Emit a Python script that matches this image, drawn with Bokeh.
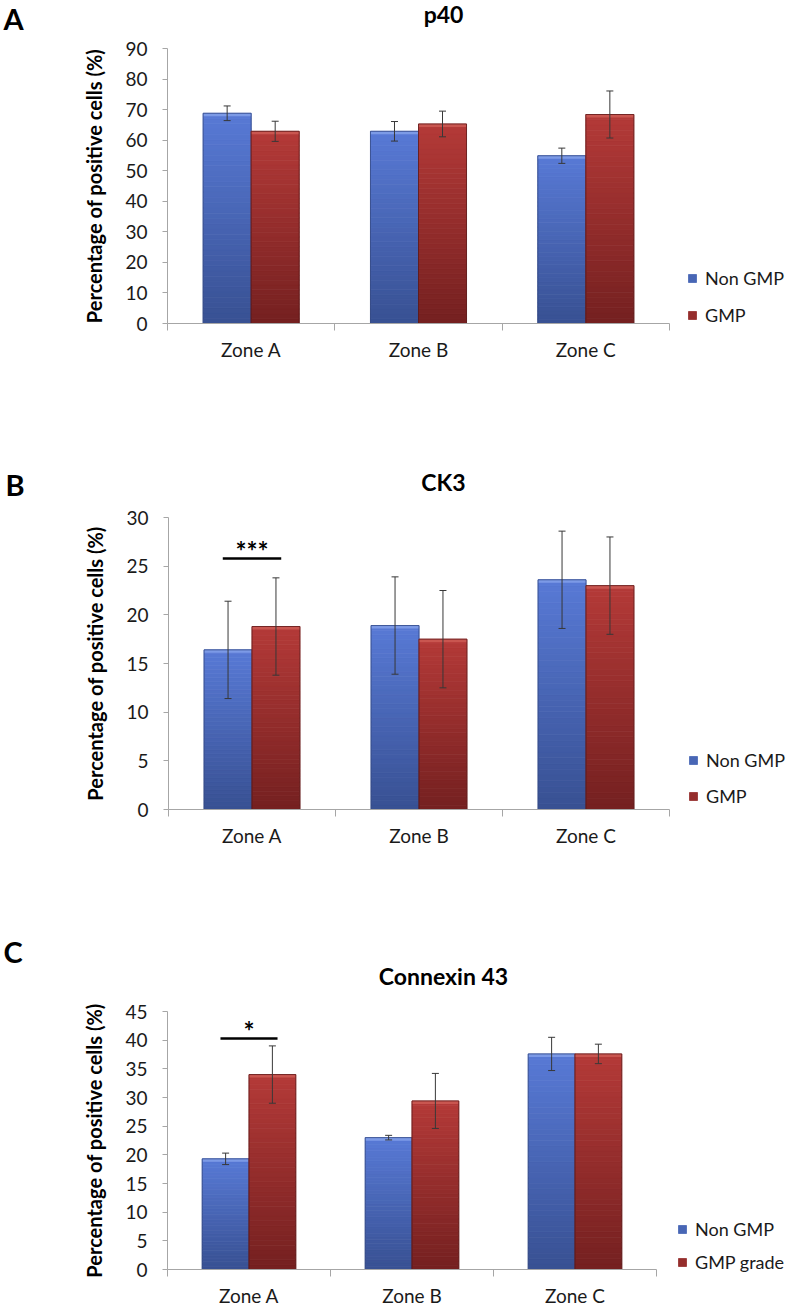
from bokeh.plotting import figure
from bokeh.models import (Range1d, FixedTicker, ColumnDataSource, LinearAxis,
                          Whisker, TeeHead, Label, Legend, LegendItem)
from bokeh.layouts import column
from bokeh.embed import file_html
from bokeh.resources import INLINE
from bokeh.core.properties import value

# ---------------- data ----------------
zones = ["Zone A", "Zone B", "Zone C"]

p40_non = [68.8, 62.9, 54.9]
p40_non_err = [2.4, 3.2, 2.5]
p40_gmp = [62.9, 65.3, 68.4]
p40_gmp_err = [3.3, 4.2, 7.7]

ck3_non = [16.4, 18.9, 23.6]
ck3_non_err = [5.0, 5.0, 5.0]
ck3_gmp = [18.8, 17.5, 23.0]
ck3_gmp_err = [5.0, 5.0, 5.0]

cx43_non = [19.3, 23.0, 37.6]
cx43_non_err = [1.0, 0.4, 2.9]
cx43_gmp = [34.0, 29.4, 37.6]
cx43_gmp_err = [5.0, 4.8, 1.7]

legend_ab = ["Non GMP", "GMP"]
legend_c = ["Non GMP", "GMP grade"]

sig_ck3 = (0, 25.8, "***")     # zone index, bar height, marker
sig_cx43 = (0, 40.3, "*")

# ---------------- style ----------------
FONT = "Lato"
W = 790
BAR_W = 0.287
NSLICE = 40
BLUE_TOP, BLUE_BOT = (88, 122, 214), (56, 80, 146)
RED_TOP, RED_BOT = (180, 58, 56), (116, 32, 32)
BLUE_CAP, RED_CAP = "#7c9ae6", "#c95650"
BLUE_EDGE, RED_EDGE = "#2f447f", "#5a1818"
AXIS_GREY = "#a6a6a6"


def hexc(c):
    return "#%02x%02x%02x" % tuple(int(round(v)) for v in c)


def gradient_source(xc, vals, top, bot):
    l, r, b, t, c = [], [], [], [], []
    for x, v in zip(xc, vals):
        for k in range(NSLICE):
            f = (k + 0.5) / NSLICE
            col = [bot[i] + (top[i] - bot[i]) * f for i in range(3)]
            l.append(x - BAR_W / 2)
            r.append(x + BAR_W / 2)
            b.append(v * k / NSLICE)
            t.append(v * (k + 1) / NSLICE)
            c.append(hexc(col))
    return ColumnDataSource(dict(left=l, right=r, bottom=b, top=t, color=c))


def panel(letter, title, ymax, step, non, non_err, gmp, gmp_err, labels, sig, geo):
    H, L, FW, T, FH = geo["H"], geo["L"], geo["FW"], geo["T"], geo["FH"]
    ncat = len(zones)
    sx = FW / ncat           # px per category
    sy = FH / ymax           # px per percent
    base = T + FH            # pixel row of value 0
    # the frame fills the whole canvas; the axes are pinned at 0 with fixed_location
    p = figure(width=W, height=H,
               x_range=Range1d(-L / sx, (W - L) / sx),
               y_range=Range1d(-(H - base) / sy, base / sy),
               output_backend="svg", toolbar_location=None, title=None,
               x_axis_location=None, y_axis_location=None,
               min_border=0, min_border_left=0, min_border_right=0,
               min_border_top=0, min_border_bottom=0)
    p.outline_line_color = None
    p.grid.visible = False
    p.background_fill_color = "white"

    def to_data(fx, fy):
        return (fx - L) / sx, (base - fy) / sy

    px2y = 1.0 / sy
    xb = [i + 0.5 - BAR_W / 2 for i in range(ncat)]
    xr = [i + 0.5 + BAR_W / 2 for i in range(ncat)]

    renderers = []
    for xc, vals, errs, top, bot, cap, edge in (
            (xb, non, non_err, BLUE_TOP, BLUE_BOT, BLUE_CAP, BLUE_EDGE),
            (xr, gmp, gmp_err, RED_TOP, RED_BOT, RED_CAP, RED_EDGE)):
        src = gradient_source(xc, vals, top, bot)
        rr = p.quad(left="left", right="right", bottom="bottom", top="top", source=src,
                    fill_color="color", line_color="color", line_width=0.8)
        renderers.append(rr)
        p.quad(left=[x - BAR_W / 2 for x in xc], right=[x + BAR_W / 2 for x in xc],
               bottom=[v - 3 * px2y for v in vals], top=vals,
               fill_color=cap, line_color=None)
        p.vbar(x=xc, top=vals, width=BAR_W, fill_color=None, line_color=edge,
               line_width=1, line_alpha=0.75)
        wsrc = ColumnDataSource(dict(x=xc, upper=[v + e for v, e in zip(vals, errs)],
                                     lower=[v - e for v, e in zip(vals, errs)]))
        p.add_layout(Whisker(base="x", upper="upper", lower="lower", source=wsrc,
                             line_color="#383838", line_width=1, level="overlay",
                             upper_head=TeeHead(size=7, line_color="#383838", line_width=1),
                             lower_head=TeeHead(size=7, line_color="#383838", line_width=1)))

    # significance marker
    if sig is not None:
        zi, syv, stxt = sig
        c = zi + 0.5
        p.segment(x0=[c - 0.175], y0=[syv], x1=[c + 0.175], y1=[syv],
                  line_color="black", line_width=2.5)
        p.text(x=[c], y=[syv], text=[stxt], text_align="center", text_baseline="alphabetic",
               y_offset=-7, text_font=value(FONT), text_font_style="bold",
               text_font_size="26px", text_color="black")

    # axes (side panels, pinned to the data origin)
    xa = LinearAxis(fixed_location=0, bounds=(0, ncat))
    xa.ticker = FixedTicker(ticks=[i + 0.5 for i in range(ncat)],
                            minor_ticks=list(range(ncat + 1)))
    xa.major_label_overrides = {i + 0.5: z for i, z in enumerate(zones)}
    xa.major_tick_line_color = None
    xa.major_tick_out = 0
    xa.major_tick_in = 0
    xa.minor_tick_line_color = AXIS_GREY
    xa.minor_tick_out = 7
    xa.minor_tick_in = 0
    xa.axis_line_color = AXIS_GREY
    xa.major_label_standoff = 7
    xa.major_label_text_font = FONT
    xa.major_label_text_font_size = "19px"
    xa.major_label_text_color = "#1a1a1a"
    p.add_layout(xa, "below")

    ya = LinearAxis(fixed_location=0, bounds=(0, ymax))
    ya.ticker = FixedTicker(ticks=list(range(0, ymax + 1, step)), minor_ticks=[])
    ya.minor_tick_line_color = None
    ya.major_tick_line_color = AXIS_GREY
    ya.major_tick_out = 5
    ya.major_tick_in = 0
    ya.axis_line_color = AXIS_GREY
    ya.major_label_standoff = 15
    ya.major_label_text_font = FONT
    ya.major_label_text_font_size = "19px"
    ya.major_label_text_color = "#1a1a1a"
    ya.axis_label = "Percentage of positive cells (%)"
    ya.axis_label_text_font = FONT
    ya.axis_label_text_font_style = "bold"
    ya.axis_label_text_font_size = "20px"
    ya.axis_label_text_color = "black"
    ya.axis_label_standoff = 16
    p.add_layout(ya, "left")

    # title and panel letter
    tx, ty = to_data(443, geo["title_y"])
    p.add_layout(Label(x=tx, y=ty, text=title, text_align="center", text_baseline="middle",
                       text_font=FONT, text_font_style="bold", text_font_size="23px",
                       text_color="black"))
    lx, ly = to_data(geo["letter_x"], geo["letter_y"])
    p.add_layout(Label(x=lx, y=ly, text=letter, text_align="left", text_baseline="middle",
                       text_font=FONT, text_font_style="bold", text_font_size="29px",
                       text_color="black"))

    # legend
    items = [LegendItem(label=labels[0], renderers=[renderers[0]], index=NSLICE // 2),
             LegendItem(label=labels[1], renderers=[renderers[1]], index=NSLICE // 2)]
    leg = Legend(items=items, location=(geo["leg_x"], H - geo["leg_bottom"]),
                 orientation="vertical",
                 border_line_color=None, background_fill_alpha=0, padding=0, margin=0,
                 spacing=geo["leg_sp"], glyph_width=10, glyph_height=10, label_height=20,
                 label_standoff=8, label_text_font=FONT, label_text_font_size="18px",
                 label_text_color="#1a1a1a")
    p.add_layout(leg, "center")
    return p


geo_a = dict(H=420, L=167, FW=502, T=48, FH=275,
             title_y=13, letter_x=3, letter_y=18, leg_x=687, leg_bottom=326, leg_sp=15)
geo_b = dict(H=445, L=168, FW=501, T=97, FH=292,
             title_y=61, letter_x=5, letter_y=64, leg_x=688, leg_bottom=387, leg_sp=14)
geo_c = dict(H=441, L=167, FW=489, T=146, FH=258,
             title_y=110, letter_x=3, letter_y=86, leg_x=677, leg_bottom=408, leg_sp=11)

pa = panel("A", "p40", 90, 10, p40_non, p40_non_err, p40_gmp, p40_gmp_err,
           legend_ab, None, geo_a)
pb = panel("B", "CK3", 30, 5, ck3_non, ck3_non_err, ck3_gmp, ck3_gmp_err,
           legend_ab, sig_ck3, geo_b)
pc = panel("C", "Connexin 43", 45, 5, cx43_non, cx43_non_err, cx43_gmp, cx43_gmp_err,
           legend_c, sig_cx43, geo_c)

layout = column(pa, pb, pc, spacing=0)
open("out.html", "w").write(file_html(layout, INLINE))
